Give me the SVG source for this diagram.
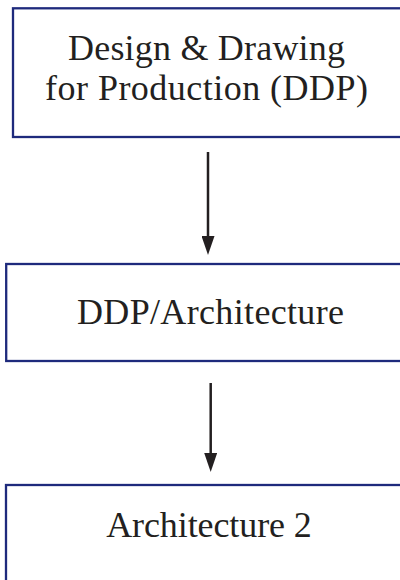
<svg xmlns="http://www.w3.org/2000/svg" width="400" height="580" viewBox="0 0 400 580">
  <style>
    .box { fill: #ffffff; stroke: #1e2a7c; stroke-width: 2.3; }
    .lbl { font-family: "Liberation Serif", "Times New Roman", serif; font-size: 36px; fill: #231f20; text-anchor: middle; }
    .conn { stroke: #231f20; stroke-width: 2.5; fill: none; }
  </style>
  <defs>
    <marker id="arrow" markerUnits="userSpaceOnUse" markerWidth="19" markerHeight="13" viewBox="0 0 19 13" refX="8" refY="6.5" orient="auto">
      <path d="M0,0 L19,6.5 L0,13 Z" fill="#231f20"/>
    </marker>
  </defs>
  <rect width="400" height="580" fill="#ffffff"/>
  <g id="node-ddp">
    <rect class="box" x="13" y="8.3" width="400" height="128.7"/>
    <text class="lbl" x="206.5" y="59.5" textLength="277" lengthAdjust="spacing">Design &amp; Drawing</text>
    <text class="lbl" x="206.5" y="99.5" textLength="323" lengthAdjust="spacing">for Production (DDP)</text>
  </g>
  <g id="node-ddp-architecture">
    <rect class="box" x="6.2" y="264" width="400" height="97"/>
    <text class="lbl" x="210.5" y="323.5" textLength="267" lengthAdjust="spacing">DDP/Architecture</text>
  </g>
  <g id="node-architecture-2">
    <rect class="box" x="6" y="485" width="400" height="120"/>
    <text class="lbl" x="209" y="537.3" textLength="205.7" lengthAdjust="spacing">Architecture 2</text>
  </g>
  <g id="connectors">
    <line class="conn" x1="208" y1="152" x2="208" y2="244" marker-end="url(#arrow)"/>
    <line class="conn" x1="210.7" y1="383" x2="210.7" y2="461" marker-end="url(#arrow)"/>
  </g>
</svg>
